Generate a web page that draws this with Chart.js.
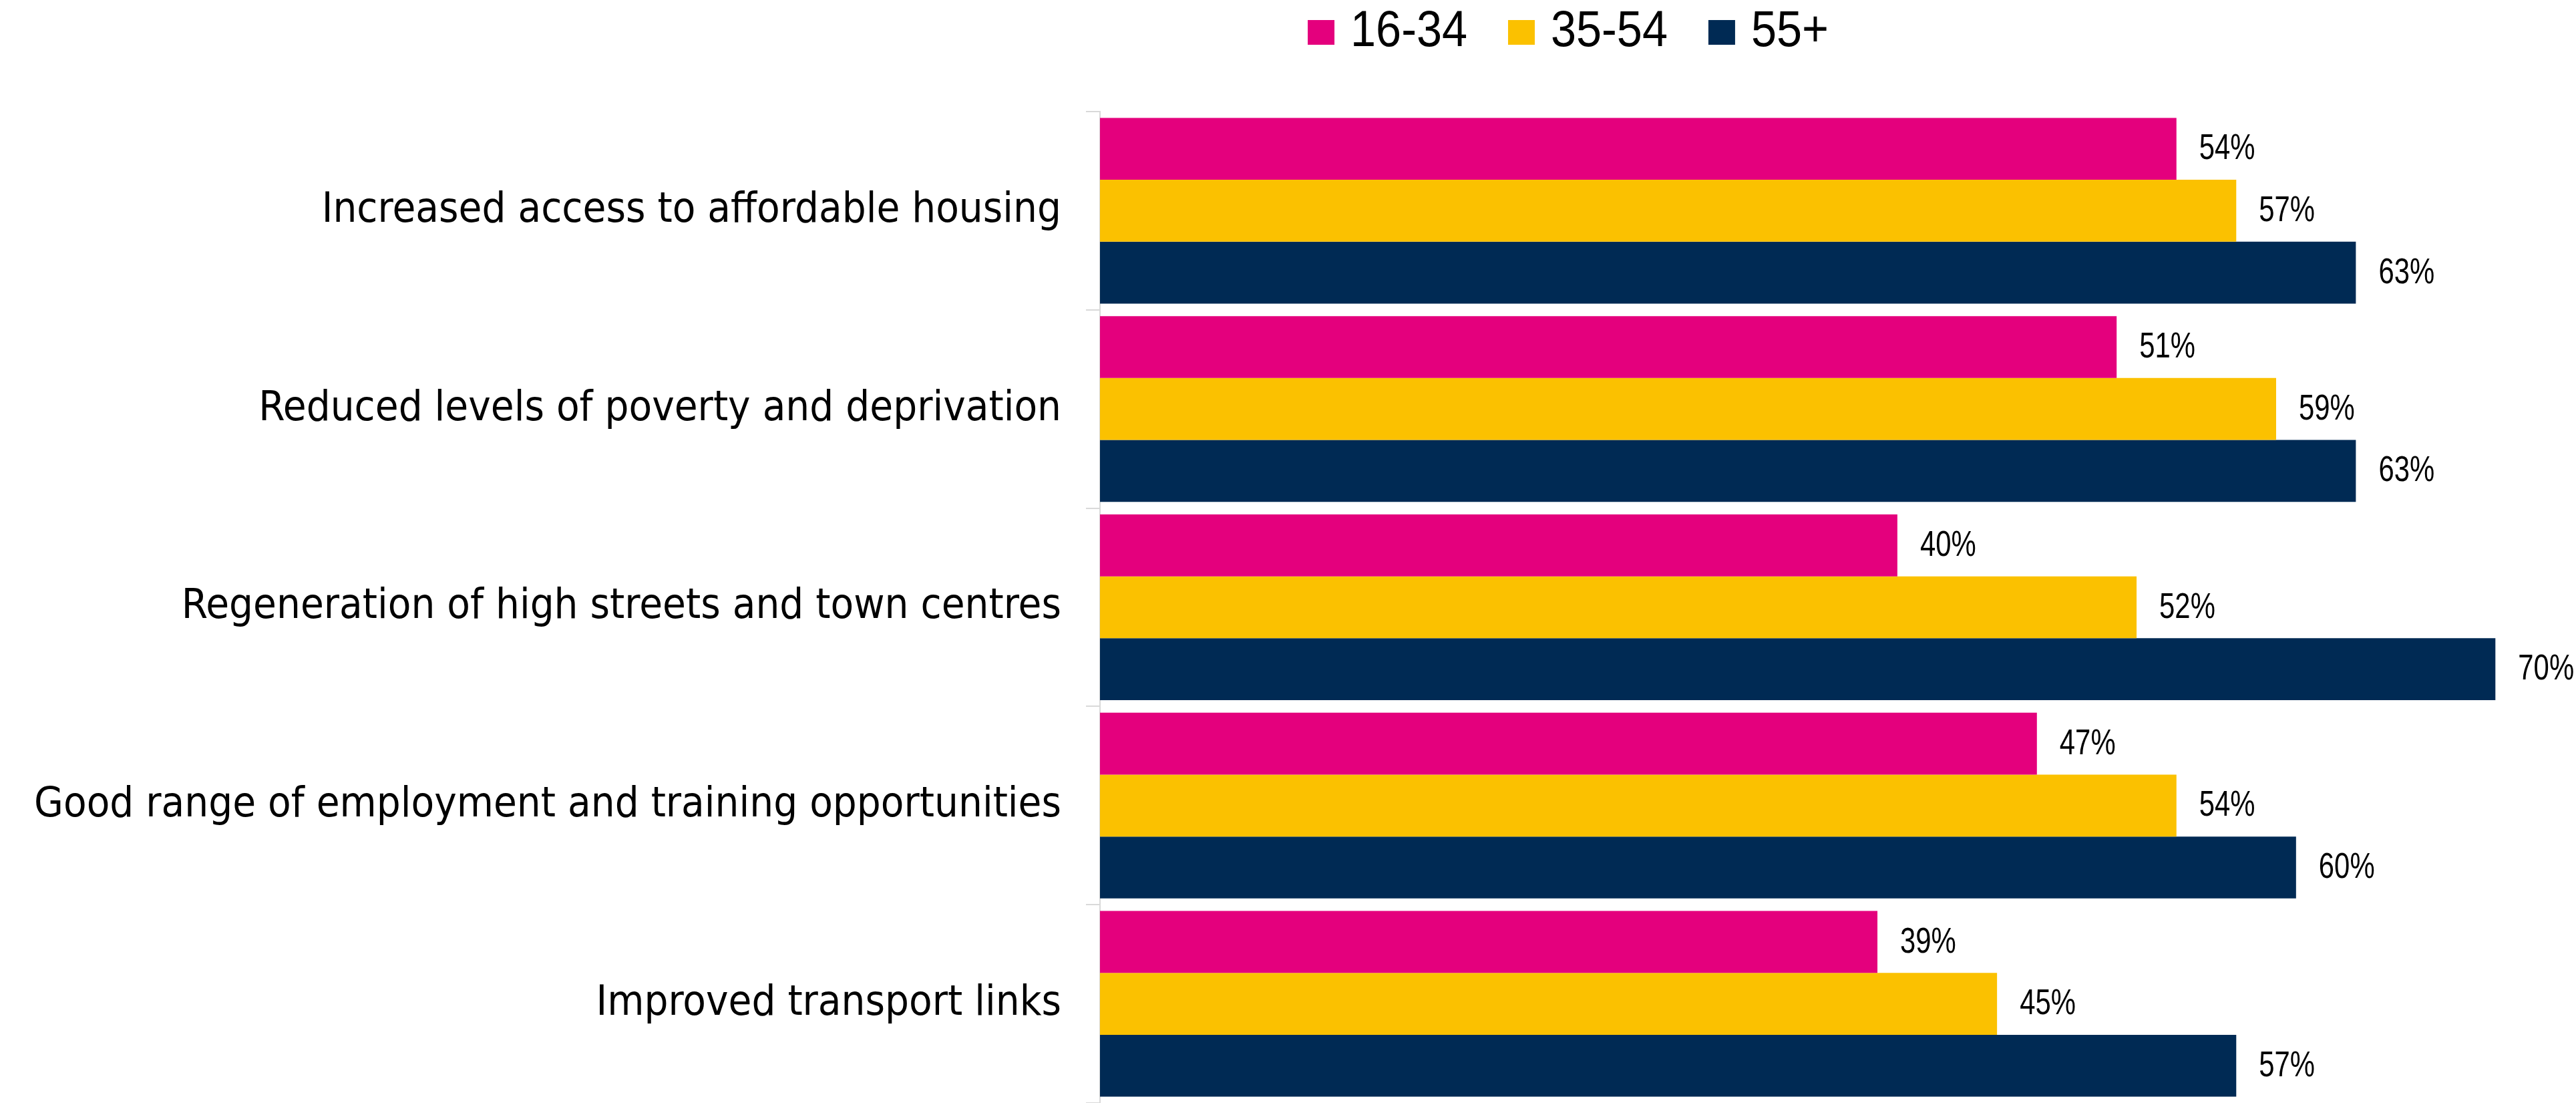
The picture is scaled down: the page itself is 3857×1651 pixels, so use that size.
<!DOCTYPE html>
<html>
<head>
<meta charset="utf-8">
<script src="https://cdn.jsdelivr.net/npm/chart.js@4/dist/chart.umd.min.js"></script>
<style>
  html, body { margin: 0; padding: 0; background: #ffffff; overflow: hidden; }
  canvas { display: block; }
</style>
</head>
<body>
<canvas id="c" width="3857" height="1651" style="width:3857px;height:1651px"></canvas>
<script>
const categories = [
  "Increased access to affordable housing",
  "Reduced levels of poverty and deprivation",
  "Regeneration of high streets and town centres",
  "Good range of employment and training opportunities",
  "Improved transport links"
];
const seriesNames = ["16-34", "35-54", "55+"];
const age16to34 = [54, 51, 40, 47, 39];
const age35to54 = [57, 59, 52, 54, 45];
const age55plus = [63, 63, 70, 60, 57];
const seriesColors = ["#E4007D", "#FBC100", "#002A54"];

const LABEL_FONT = '"DejaVu Sans Condensed", "DejaVu Sans", sans-serif';
const NARROW_FONT = '"Liberation Sans", Arial, sans-serif';

const valueLabels = {
  id: 'valueLabels',
  afterDatasetsDraw(chart) {
    const ctx = chart.ctx;
    const sx = 0.79;
    ctx.save();
    ctx.font = '53px ' + NARROW_FONT;
    ctx.fillStyle = '#000000';
    ctx.textAlign = 'left';
    ctx.textBaseline = 'middle';
    chart.data.datasets.forEach((ds, i) => {
      const meta = chart.getDatasetMeta(i);
      meta.data.forEach((bar, j) => {
        ctx.save();
        ctx.translate(bar.x + 34, bar.y + 1);
        ctx.scale(sx, 1);
        ctx.fillText(ds.data[j] + '%', 0, 0);
        ctx.restore();
      });
    });
    ctx.restore();
  }
};

const customLegend = {
  id: 'customLegend',
  afterDraw(chart) {
    const ctx = chart.ctx;
    const sx = 0.9;
    ctx.save();
    ctx.font = '76px ' + NARROW_FONT;
    ctx.textBaseline = 'middle';
    ctx.textAlign = 'left';
    const box = 40, gapText = 24, gapItem = 61;
    const items = chart.data.datasets.map(d => ({ label: d.label, color: d.backgroundColor, w: ctx.measureText(d.label).width * sx }));
    let total = 0;
    items.forEach((it, i) => { total += box + gapText + it.w + (i < items.length - 1 ? gapItem : 0); });
    const centerX = 2348;
    let x = centerX - total / 2;
    const cy = 48;
    items.forEach(it => {
      ctx.fillStyle = it.color;
      ctx.fillRect(x, cy - 18, box, 37);
      x += box + gapText;
      ctx.save();
      ctx.translate(x, cy);
      ctx.scale(sx, 1);
      ctx.fillStyle = '#000000';
      ctx.fillText(it.label, 0, 0);
      ctx.restore();
      x += it.w + gapItem;
    });
    ctx.restore();
  }
};

new Chart(document.getElementById('c'), {
  type: 'bar',
  data: {
    labels: categories,
    datasets: [
      { label: seriesNames[0], data: age16to34, backgroundColor: seriesColors[0] },
      { label: seriesNames[1], data: age35to54, backgroundColor: seriesColors[1] },
      { label: seriesNames[2], data: age55plus, backgroundColor: seriesColors[2] }
    ]
  },
  options: {
    indexAxis: 'y',
    responsive: false,
    maintainAspectRatio: false,
    devicePixelRatio: 1,
    animation: false,
    events: [],
    datasets: { bar: { barPercentage: 1.0, categoryPercentage: 0.9365, borderWidth: 0 } },
    layout: { padding: { top: 167, bottom: -11, left: 0, right: 61 } },
    plugins: {
      legend: { display: false },
      title: { display: false },
      tooltip: { enabled: false }
    },
    scales: {
      x: {
        display: false,
        min: 0,
        max: 72
      },
      y: {
        afterFit(scale) {
          scale.width = 1647;
          scale.paddingTop = 0;
          scale.paddingBottom = 0;
        },
        border: { display: true, color: '#D9D9D9', width: 2 },
        grid: {
          display: true,
          drawOnChartArea: false,
          drawTicks: true,
          tickLength: 21,
          color: '#D9D9D9',
          lineWidth: 2,
          offset: true
        },
        ticks: {
          color: '#000000',
          padding: 37,
          font: { family: LABEL_FONT, size: 63 }
        }
      }
    }
  },
  plugins: [valueLabels, customLegend]
});
</script>
</body>
</html>
